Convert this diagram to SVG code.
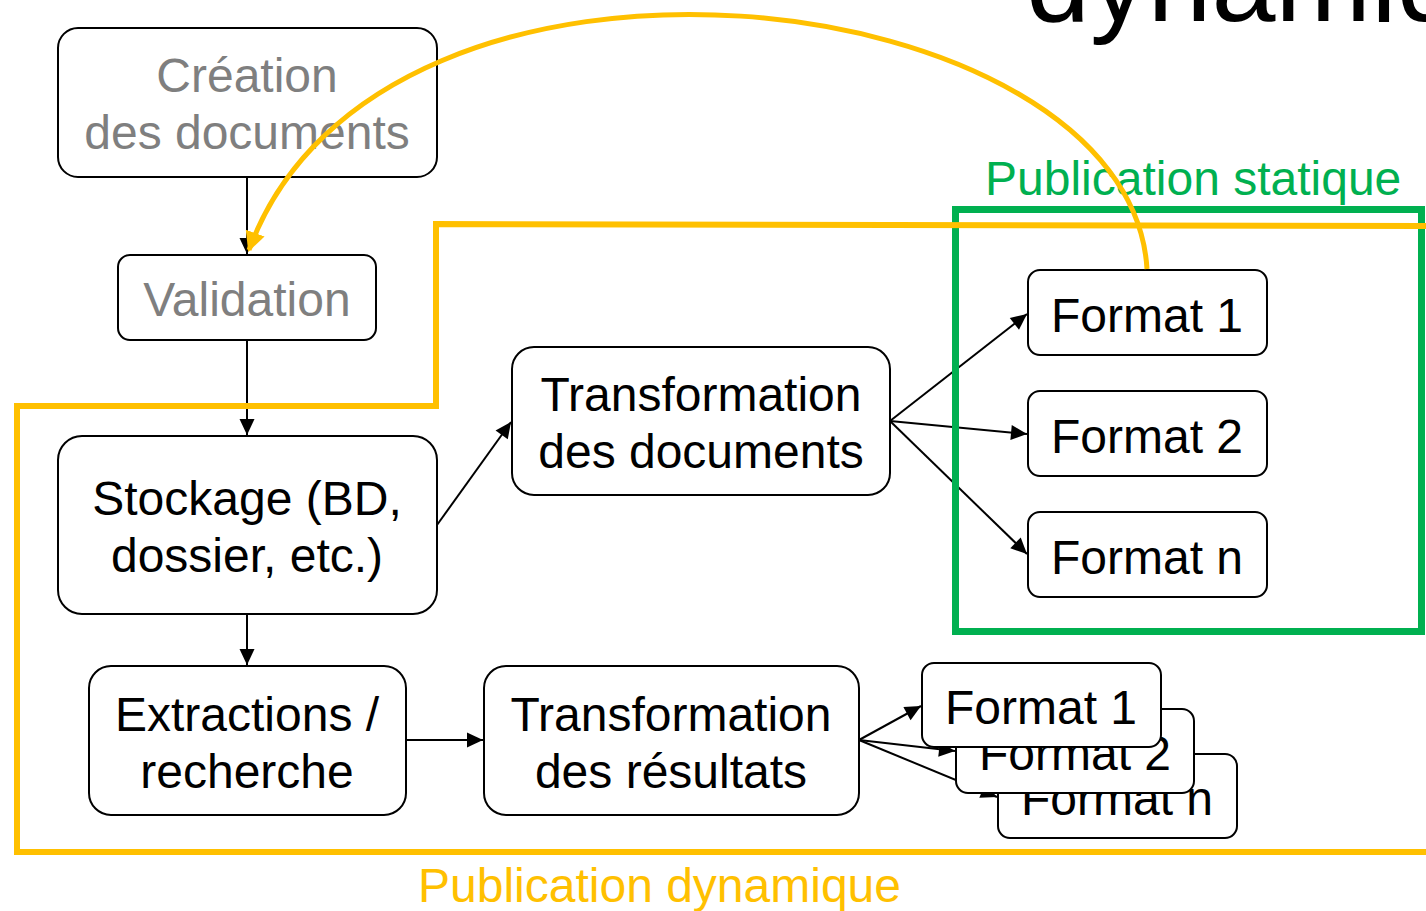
<svg xmlns="http://www.w3.org/2000/svg" width="1426" height="911" viewBox="0 0 1426 911">
<defs>
<style>
.box{fill:#fff;stroke:#000;stroke-width:2}
.t{font-family:"Liberation Sans",Arial,sans-serif;font-size:48px;fill:#000;text-anchor:middle}
.g{fill:#7f7f7f}
.c{stroke:#000;stroke-width:2;fill:none;marker-end:url(#ah)}
</style>
<marker id="ah" viewBox="0 0 16 15" refX="16" refY="7.5" markerWidth="8" markerHeight="7.5" orient="auto" overflow="visible">
<path d="M0,0 L16,7.5 L0,15 z" fill="#000"/>
</marker>
<marker id="ao" viewBox="0 0 10 10" refX="9" refY="5" markerWidth="4" markerHeight="4" orient="auto">
<path d="M0,0 L10,5 L0,10 z" fill="#ffc000"/>
</marker>
</defs>
<rect width="1426" height="911" fill="#fff"/>
<text x="1026" y="21" font-family="Liberation Sans,Arial,sans-serif" font-size="115" fill="#000">dynamique</text>

<g id="connectors">
<line class="c" x1="247" y1="177" x2="247" y2="254"/>
<line class="c" x1="247" y1="340" x2="247" y2="435"/>
<line class="c" x1="247" y1="614" x2="247" y2="665"/>
<line class="c" x1="437" y1="525" x2="511" y2="422"/>
<line class="c" x1="890" y1="421" x2="1027" y2="314"/>
<line class="c" x1="890" y1="421" x2="1027" y2="434"/>
<line class="c" x1="890" y1="421" x2="1027" y2="554"/>
<line class="c" x1="406" y1="740" x2="483" y2="740"/>
</g>

<g id="creation"><rect class="box" x="58" y="28" width="379" height="149" rx="20"/><text class="t g" x="247" y="92">Création</text><text class="t g" x="247" y="149">des documents</text></g>
<g id="validation"><rect class="box" x="118" y="255" width="258" height="85" rx="12"/><text class="t g" x="247" y="316">Validation</text></g>
<g id="stockage"><rect class="box" x="58" y="436" width="379" height="178" rx="24"/><text class="t" x="247" y="515">Stockage (BD,</text><text class="t" x="247" y="572">dossier, etc.)</text></g>
<g id="extractions"><rect class="box" x="89" y="666" width="317" height="149" rx="22"/><text class="t" x="247" y="731">Extractions /</text><text class="t" x="247" y="788">recherche</text></g>
<g id="transfo-docs"><rect class="box" x="512" y="347" width="378" height="148" rx="22"/><text class="t" x="701" y="411">Transformation</text><text class="t" x="701" y="468">des documents</text></g>
<g id="transfo-res"><rect class="box" x="484" y="666" width="375" height="149" rx="22"/><text class="t" x="671" y="731">Transformation</text><text class="t" x="671" y="788">des résultats</text></g>
<g id="format1"><rect class="box" x="1028" y="270" width="239" height="85" rx="12"/><text class="t" x="1147" y="332">Format 1</text></g>
<g id="format2"><rect class="box" x="1028" y="391" width="239" height="85" rx="12"/><text class="t" x="1147" y="453">Format 2</text></g>
<g id="formatn"><rect class="box" x="1028" y="512" width="239" height="85" rx="12"/><text class="t" x="1147" y="574">Format n</text></g>

<g id="res-formatn"><rect class="box" x="998" y="754" width="239" height="84" rx="12"/><text class="t" x="1117" y="815">Format n</text></g>
<line class="c" x1="859" y1="740" x2="997" y2="797"/>
<g id="res-format2"><rect class="box" x="956" y="709" width="238" height="84" rx="12"/><text class="t" x="1075" y="770">Format 2</text></g>
<line class="c" x1="859" y1="740" x2="955" y2="751"/>
<g id="res-format1"><rect class="box" x="922" y="663" width="239" height="84" rx="12"/><text class="t" x="1041" y="724">Format 1</text></g>
<line class="c" x1="859" y1="740" x2="921" y2="706"/>

<g id="statique">
<rect x="955.5" y="209.5" width="466" height="422" fill="none" stroke="#00b050" stroke-width="7"/>
<text x="985" y="195" font-family="Liberation Sans,Arial,sans-serif" font-size="48" fill="#00b050">Publication statique</text>
</g>
<g id="dynamique">
<path d="M1426,226 L436,224 L436,406 L17,406 L17,852 L1426,852" fill="none" stroke="#ffc000" stroke-width="6"/>
<text x="418" y="902" font-family="Liberation Sans,Arial,sans-serif" font-size="48" fill="#ffc000">Publication dynamique</text>
</g>
<path id="loop" d="M1147,269 C1130,-20 380,-110 249,250" fill="none" stroke="#ffc000" stroke-width="5" marker-end="url(#ao)"/>
</svg>
